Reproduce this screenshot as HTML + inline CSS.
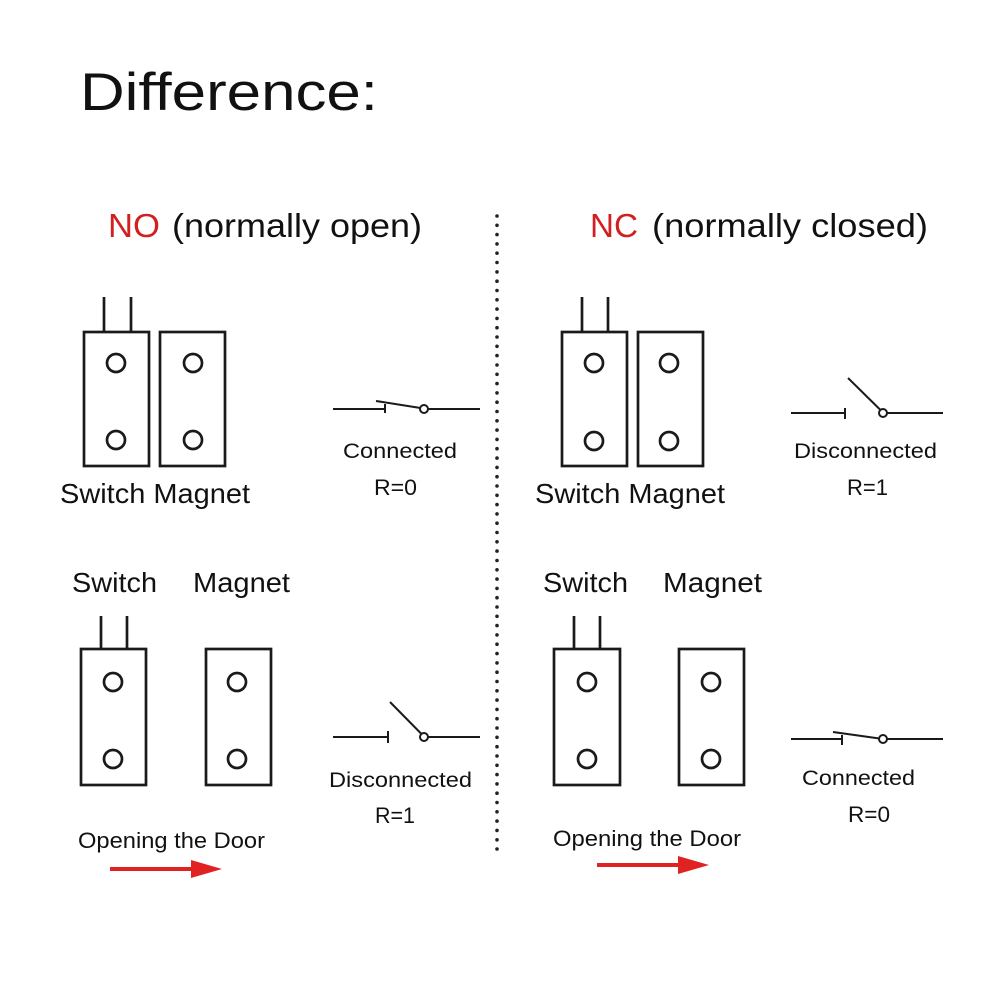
<!DOCTYPE html>
<html><head><meta charset="utf-8"><style>
html,body{margin:0;padding:0;background:#fff;}
svg{display:block;}
text{font-family:"Liberation Sans",Arial,sans-serif;fill:#111;}
</style></head><body>
<svg width="1000" height="1000" viewBox="0 0 1000 1000" xmlns="http://www.w3.org/2000/svg">
<rect width="1000" height="1000" fill="#fff"/>
<!-- Title -->
<text x="80" y="110" font-size="53" textLength="298" lengthAdjust="spacingAndGlyphs">Difference:</text>
<!-- Headers -->
<text x="108" y="237" font-size="33" textLength="52" lengthAdjust="spacingAndGlyphs" style="fill:#d21f1f">NO</text>
<text x="172" y="237" font-size="33" textLength="250" lengthAdjust="spacingAndGlyphs">(normally open)</text>
<text x="590" y="237" font-size="33" textLength="48" lengthAdjust="spacingAndGlyphs" style="fill:#d21f1f">NC</text>
<text x="652" y="237" font-size="33" textLength="276" lengthAdjust="spacingAndGlyphs">(normally closed)</text>

<g stroke="#1a1a1a" stroke-width="2.7" fill="none">
  <!-- TL switch/magnet -->
  <rect x="84" y="332" width="65" height="134"/>
  <line x1="104" y1="297" x2="104" y2="332"/>
  <line x1="131" y1="297" x2="131" y2="332"/>
  <rect x="160" y="332" width="65" height="134"/>
  <circle cx="116" cy="363" r="9"/>
  <circle cx="116" cy="440" r="9"/>
  <circle cx="193" cy="363" r="9"/>
  <circle cx="193" cy="440" r="9"/>
  <!-- TR -->
  <rect x="562" y="332" width="65" height="134"/>
  <line x1="582" y1="297" x2="582" y2="332"/>
  <line x1="608" y1="297" x2="608" y2="332"/>
  <rect x="638" y="332" width="65" height="134"/>
  <circle cx="594" cy="363" r="9"/>
  <circle cx="594" cy="441" r="9"/>
  <circle cx="669" cy="363" r="9"/>
  <circle cx="669" cy="441" r="9"/>
  <!-- BL -->
  <rect x="81" y="649" width="65" height="136"/>
  <line x1="101" y1="616" x2="101" y2="649"/>
  <line x1="127" y1="616" x2="127" y2="649"/>
  <rect x="206" y="649" width="65" height="136"/>
  <circle cx="113" cy="682" r="9"/>
  <circle cx="113" cy="759" r="9"/>
  <circle cx="237" cy="682" r="9"/>
  <circle cx="237" cy="759" r="9"/>
  <!-- BR -->
  <rect x="554" y="649" width="66" height="136"/>
  <line x1="574" y1="616" x2="574" y2="649"/>
  <line x1="600" y1="616" x2="600" y2="649"/>
  <rect x="679" y="649" width="65" height="136"/>
  <circle cx="587" cy="682" r="9"/>
  <circle cx="587" cy="759" r="9"/>
  <circle cx="711" cy="682" r="9"/>
  <circle cx="711" cy="759" r="9"/>
</g>

<!-- Switch symbols -->
<g stroke="#1a1a1a" stroke-width="2" fill="none">
  <!-- TL connected -->
  <line x1="333" y1="409" x2="385" y2="409"/>
  <line x1="385" y1="404" x2="385" y2="413"/>
  <line x1="376" y1="401" x2="420.5" y2="408"/>
  <circle cx="424" cy="409" r="4" fill="#fff"/>
  <line x1="428" y1="409" x2="480" y2="409"/>
  <!-- TR disconnected -->
  <line x1="791" y1="413" x2="845" y2="413"/>
  <line x1="845" y1="408" x2="845" y2="419"/>
  <line x1="848" y1="378" x2="880.5" y2="410"/>
  <circle cx="883" cy="413" r="4" fill="#fff"/>
  <line x1="887" y1="413" x2="943" y2="413"/>
  <!-- BL disconnected -->
  <line x1="333" y1="737" x2="388" y2="737"/>
  <line x1="388" y1="731" x2="388" y2="743"/>
  <line x1="390" y1="702" x2="421.5" y2="734"/>
  <circle cx="424" cy="737" r="4" fill="#fff"/>
  <line x1="428" y1="737" x2="480" y2="737"/>
  <!-- BR connected -->
  <line x1="791" y1="739" x2="842" y2="739"/>
  <line x1="842" y1="735" x2="842" y2="745"/>
  <line x1="833" y1="732" x2="879.5" y2="738.5"/>
  <circle cx="883" cy="739" r="4" fill="#fff"/>
  <line x1="887" y1="739" x2="943" y2="739"/>
</g>

<!-- Labels -->
<text x="60" y="503" font-size="28" textLength="190" lengthAdjust="spacingAndGlyphs">Switch Magnet</text>
<text x="535" y="503" font-size="28" textLength="190" lengthAdjust="spacingAndGlyphs">Switch Magnet</text>
<text x="343" y="458" font-size="21" textLength="114" lengthAdjust="spacingAndGlyphs">Connected</text>
<text x="374" y="495" font-size="22" textLength="43" lengthAdjust="spacingAndGlyphs">R=0</text>
<text x="794" y="458" font-size="21" textLength="143" lengthAdjust="spacingAndGlyphs">Disconnected</text>
<text x="847" y="495" font-size="22" textLength="41" lengthAdjust="spacingAndGlyphs">R=1</text>

<text x="72" y="592" font-size="28" textLength="85" lengthAdjust="spacingAndGlyphs">Switch</text>
<text x="193" y="592" font-size="28" textLength="97" lengthAdjust="spacingAndGlyphs">Magnet</text>
<text x="543" y="592" font-size="28" textLength="85" lengthAdjust="spacingAndGlyphs">Switch</text>
<text x="663" y="592" font-size="28" textLength="99" lengthAdjust="spacingAndGlyphs">Magnet</text>

<text x="329" y="787" font-size="21" textLength="143" lengthAdjust="spacingAndGlyphs">Disconnected</text>
<text x="375" y="823" font-size="22" textLength="40" lengthAdjust="spacingAndGlyphs">R=1</text>
<text x="802" y="785" font-size="21" textLength="113" lengthAdjust="spacingAndGlyphs">Connected</text>
<text x="848" y="822" font-size="22" textLength="42" lengthAdjust="spacingAndGlyphs">R=0</text>

<text x="78" y="848" font-size="22" textLength="187" lengthAdjust="spacingAndGlyphs">Opening the Door</text>
<text x="553" y="846" font-size="22" textLength="188" lengthAdjust="spacingAndGlyphs">Opening the Door</text>

<!-- Red arrows -->
<line x1="110" y1="869" x2="193" y2="869" stroke="#e02222" stroke-width="4"/>
<polygon points="191,860 222,869 191,878" fill="#e02222"/>
<line x1="597" y1="865" x2="680" y2="865" stroke="#e02222" stroke-width="4"/>
<polygon points="678,856 709,865 678,874" fill="#e02222"/>

<!-- Divider dots -->
<g fill="#222">
<circle cx="497" cy="216" r="1.8"/><circle cx="497" cy="225.3" r="1.8"/><circle cx="497" cy="234.6" r="1.8"/><circle cx="497" cy="243.9" r="1.8"/><circle cx="497" cy="253.2" r="1.8"/><circle cx="497" cy="262.5" r="1.8"/><circle cx="497" cy="271.9" r="1.8"/><circle cx="497" cy="281.2" r="1.8"/><circle cx="497" cy="290.5" r="1.8"/><circle cx="497" cy="299.8" r="1.8"/>
<circle cx="497" cy="309.1" r="1.8"/><circle cx="497" cy="318.4" r="1.8"/><circle cx="497" cy="327.7" r="1.8"/><circle cx="497" cy="337" r="1.8"/><circle cx="497" cy="346.3" r="1.8"/><circle cx="497" cy="355.6" r="1.8"/><circle cx="497" cy="365" r="1.8"/><circle cx="497" cy="374.3" r="1.8"/><circle cx="497" cy="383.6" r="1.8"/><circle cx="497" cy="392.9" r="1.8"/>
<circle cx="497" cy="402.2" r="1.8"/><circle cx="497" cy="411.5" r="1.8"/><circle cx="497" cy="420.8" r="1.8"/><circle cx="497" cy="430.1" r="1.8"/><circle cx="497" cy="439.4" r="1.8"/><circle cx="497" cy="448.7" r="1.8"/><circle cx="497" cy="458.1" r="1.8"/><circle cx="497" cy="467.4" r="1.8"/><circle cx="497" cy="476.7" r="1.8"/><circle cx="497" cy="486" r="1.8"/>
<circle cx="497" cy="495.3" r="1.8"/><circle cx="497" cy="504.6" r="1.8"/><circle cx="497" cy="513.9" r="1.8"/><circle cx="497" cy="523.2" r="1.8"/><circle cx="497" cy="532.5" r="1.8"/><circle cx="497" cy="541.8" r="1.8"/><circle cx="497" cy="551.1" r="1.8"/><circle cx="497" cy="560.5" r="1.8"/><circle cx="497" cy="569.8" r="1.8"/><circle cx="497" cy="579.1" r="1.8"/>
<circle cx="497" cy="588.4" r="1.8"/><circle cx="497" cy="597.7" r="1.8"/><circle cx="497" cy="607" r="1.8"/><circle cx="497" cy="616.3" r="1.8"/><circle cx="497" cy="625.6" r="1.8"/><circle cx="497" cy="634.9" r="1.8"/><circle cx="497" cy="644.2" r="1.8"/><circle cx="497" cy="653.6" r="1.8"/><circle cx="497" cy="662.9" r="1.8"/><circle cx="497" cy="672.2" r="1.8"/>
<circle cx="497" cy="681.5" r="1.8"/><circle cx="497" cy="690.8" r="1.8"/><circle cx="497" cy="700.1" r="1.8"/><circle cx="497" cy="709.4" r="1.8"/><circle cx="497" cy="718.7" r="1.8"/><circle cx="497" cy="728" r="1.8"/><circle cx="497" cy="737.3" r="1.8"/><circle cx="497" cy="746.7" r="1.8"/><circle cx="497" cy="756" r="1.8"/><circle cx="497" cy="765.3" r="1.8"/>
<circle cx="497" cy="774.6" r="1.8"/><circle cx="497" cy="783.9" r="1.8"/><circle cx="497" cy="793.2" r="1.8"/><circle cx="497" cy="802.5" r="1.8"/><circle cx="497" cy="811.8" r="1.8"/><circle cx="497" cy="821.1" r="1.8"/><circle cx="497" cy="830.4" r="1.8"/><circle cx="497" cy="839.8" r="1.8"/><circle cx="497" cy="849" r="1.8"/>
</g>
</svg>
</body></html>
